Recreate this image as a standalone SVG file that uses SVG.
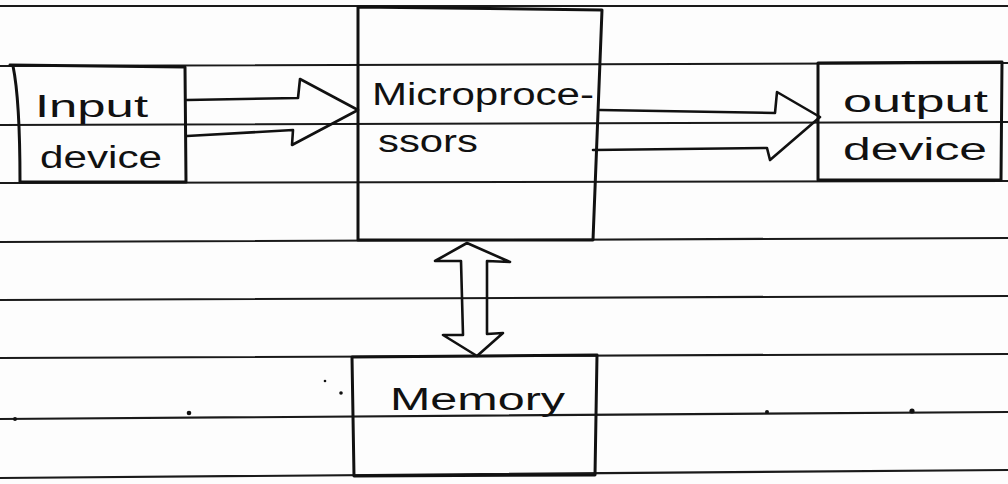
<svg xmlns="http://www.w3.org/2000/svg" width="1008" height="484" viewBox="0 0 1008 484">
  <style>
    .rule { stroke: #1a1a1a; stroke-width: 2.2; fill: none; stroke-linecap: round; }
    .box { stroke: #111; stroke-width: 3; fill: none; stroke-linejoin: round; stroke-linecap: round; }
    .arrow { stroke: #111; stroke-width: 2.6; fill: none; stroke-linejoin: round; stroke-linecap: round; }
    .label { font-family: "Liberation Sans", "DejaVu Sans", sans-serif; font-size: 31px; fill: #111; }
    .speck { fill: #111; }
  </style>
  <rect width="1008" height="484" fill="#fdfdfd"/>

  <!-- ruled paper lines -->
  <g id="paper">
    <line class="rule" x1="0" y1="6" x2="1008" y2="6"/>
    <line class="rule" x1="0" y1="66" x2="1008" y2="63"/>
    <line class="rule" x1="0" y1="125" x2="1008" y2="122"/>
    <line class="rule" x1="0" y1="183" x2="1008" y2="181"/>
    <line class="rule" x1="0" y1="242" x2="1008" y2="238"/>
    <line class="rule" x1="0" y1="300" x2="1008" y2="296"/>
    <line class="rule" x1="0" y1="358" x2="1008" y2="354"/>
    <line class="rule" x1="0" y1="419" x2="1008" y2="412"/>
    <line class="rule" x1="0" y1="478" x2="1008" y2="470"/>
    <circle class="speck" cx="15" cy="419" r="2"/>
    <circle class="speck" cx="189" cy="413" r="2.3"/>
    <circle class="speck" cx="325" cy="381" r="1.3"/>
    <circle class="speck" cx="341" cy="393" r="1.8"/>
    <circle class="speck" cx="767" cy="412" r="2"/>
    <circle class="speck" cx="912" cy="411" r="2.6"/>
  </g>

  <!-- input device -->
  <g id="input-device">
    <path class="box" d="M10,65 L185,67 L186,182 L20,182 C20,140 19,95 13,66"/>
    <text class="label" x="35" y="117" textLength="113" lengthAdjust="spacingAndGlyphs">Input</text>
    <text class="label" x="40" y="168" textLength="122" lengthAdjust="spacingAndGlyphs">device</text>
  </g>

  <!-- microprocessors -->
  <g id="microprocessors">
    <path class="box" d="M358,7 L602,10 L593,240 L358,240 Z"/>
    <text class="label" x="372" y="105" textLength="222" lengthAdjust="spacingAndGlyphs">Microproce-</text>
    <text class="label" x="378" y="152" textLength="100" lengthAdjust="spacingAndGlyphs">ssors</text>
  </g>

  <!-- output device -->
  <g id="output-device">
    <path class="box" d="M818,63 L1002,62 L1001,180 L818,180 Z"/>
    <text class="label" x="843" y="112" textLength="145" lengthAdjust="spacingAndGlyphs">output</text>
    <text class="label" x="843" y="160" textLength="144" lengthAdjust="spacingAndGlyphs">device</text>
  </g>

  <!-- memory -->
  <g id="memory">
    <path class="box" d="M352,357 L597,355 L595,475 L354,476 Z"/>
    <text class="label" x="390" y="410" textLength="175" lengthAdjust="spacingAndGlyphs">Memory</text>
  </g>

  <!-- connectors: hollow block arrows -->
  <g id="connectors">
    <path class="arrow" d="M187,100 L298,98 L300,79 L358,110 L292,145 L293,130 L187,136"/>
    <path class="arrow" d="M600,110 L775,113 L777,92 L820,117 L770,160 L767,148 L593,150"/>
    <path class="arrow" d="M461,261 L435,261 L467,243 L510,262 L487,261 L487,334 L503,333 L477,356 L443,335 L463,335 Z"/>
  </g>
</svg>
